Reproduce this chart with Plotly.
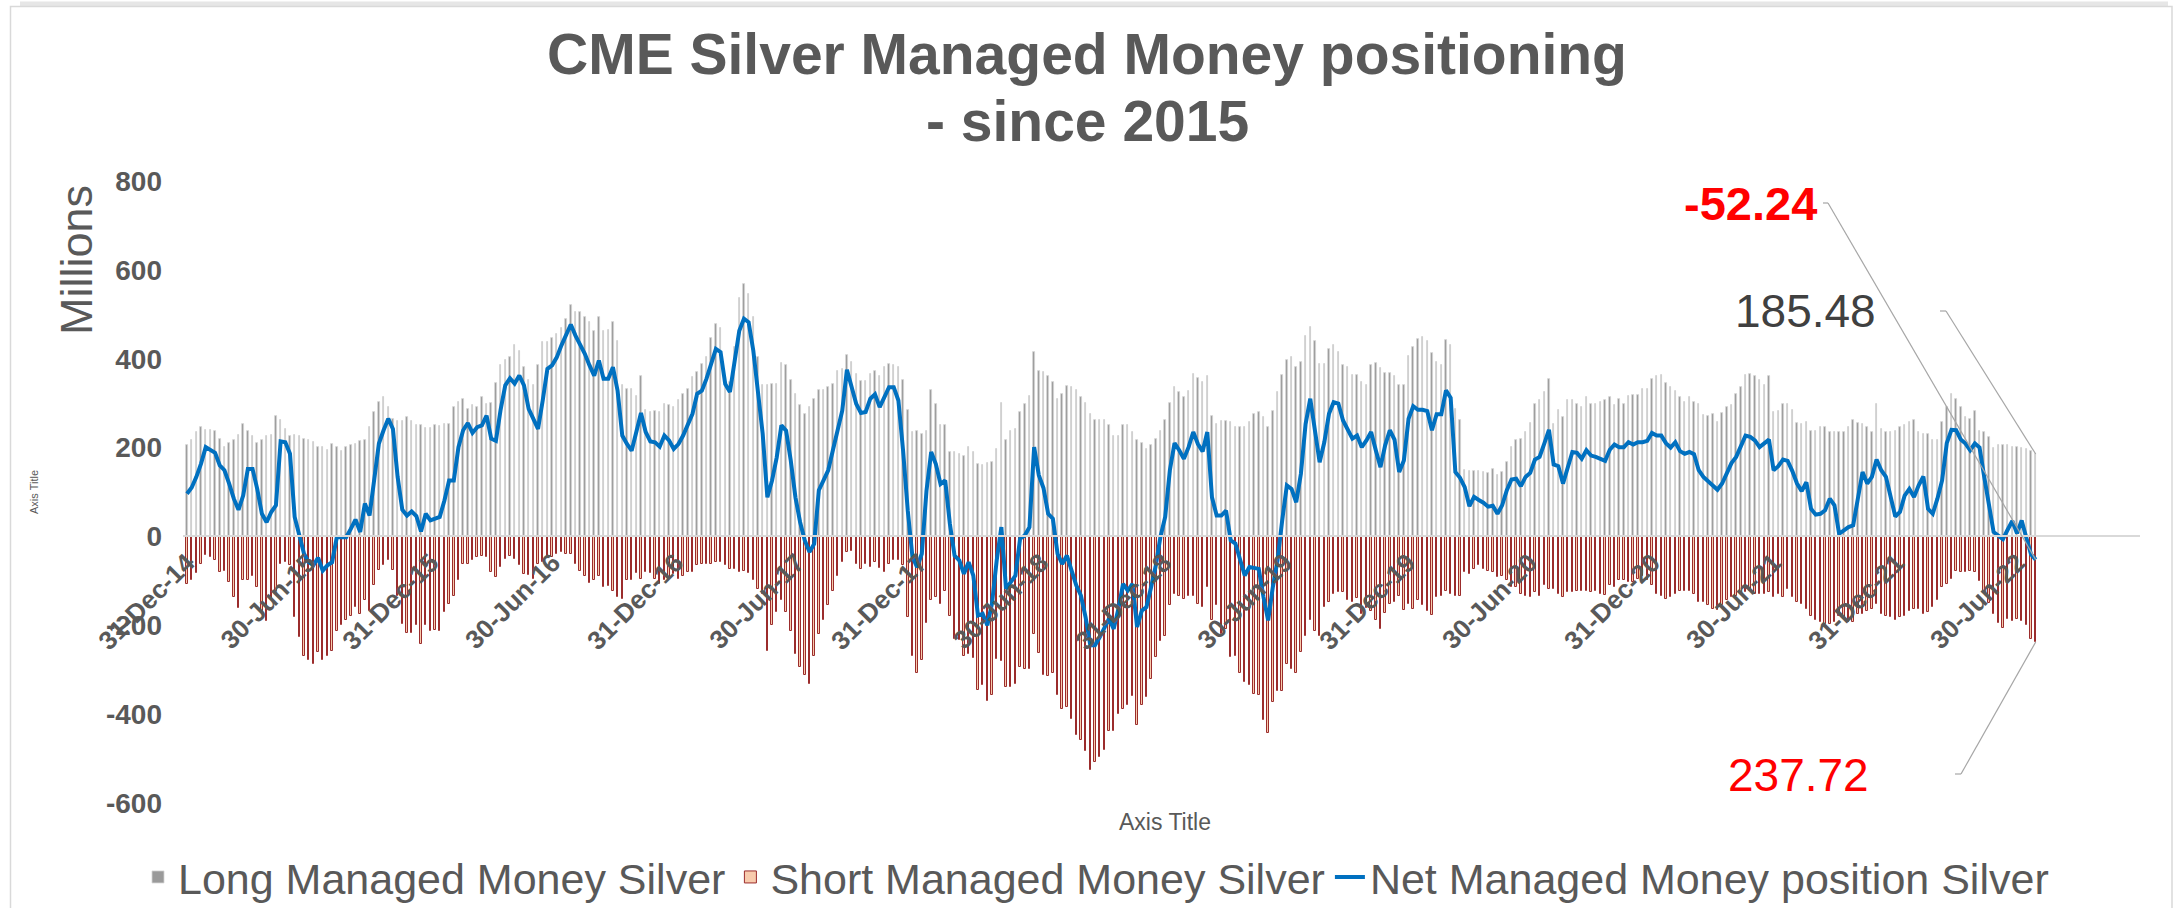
import pandas as pd
import plotly.graph_objects as go

# ---------------- data (weekly, millions) ----------------
start_date = "2014-12-31"
n_weeks = 396
dates = pd.date_range(start=start_date, periods=n_weeks, freq="7D")

long_mm = [
    206, 218, 236, 246, 240, 240, 238, 220, 201, 210,
    216, 229, 252, 238, 227, 210, 217, 227, 229, 272,
    262, 242, 225, 229, 227, 220, 217, 212, 202, 201,
    195, 208, 201, 193, 201, 205, 207, 214, 216, 246,
    280, 302, 313, 292, 265, 259, 259, 268, 259, 251,
    250, 244, 244, 250, 248, 252, 252, 292, 302, 310,
    287, 295, 292, 313, 298, 300, 345, 385, 396, 403,
    430, 418, 381, 351, 340, 385, 437, 437, 447, 456,
    470, 490, 520, 505, 505, 493, 482, 463, 493, 463,
    465, 482, 441, 340, 332, 332, 317, 360, 285, 280,
    283, 280, 297, 295, 291, 306, 321, 332, 358, 370,
    388, 403, 447, 478, 469, 358, 347, 426, 537, 568,
    546, 495, 403, 340, 340, 343, 343, 390, 385, 351,
    321, 295, 276, 291, 310, 330, 330, 336, 343, 373,
    377, 409, 392, 366, 349, 349, 366, 373, 362, 381,
    388, 385, 382, 351, 285, 235, 238, 231, 238, 330,
    298, 250, 250, 190, 190, 186, 180, 202, 191, 163,
    160, 165, 167, 197, 300, 216, 238, 242, 280, 297,
    316, 416, 373, 370, 360, 347, 310, 320, 338, 336,
    330, 313, 300, 276, 262, 261, 261, 250, 225, 227,
    250, 251, 235, 216, 210, 197, 205, 220, 238, 262,
    300, 336, 325, 313, 328, 366, 357, 347, 362, 272,
    253, 259, 259, 257, 246, 247, 247, 257, 276, 281,
    268, 247, 283, 325, 364, 397, 403, 381, 392, 452,
    471, 441, 388, 388, 421, 431, 415, 385, 381, 364,
    364, 347, 340, 385, 390, 379, 367, 367, 362, 340,
    340, 405, 426, 445, 450, 441, 412, 392, 386, 442,
    432, 287, 262, 150, 148, 148, 148, 145, 142, 152,
    139, 145, 167, 201, 217, 220, 235, 255, 298, 307,
    325, 355, 253, 285, 268, 307, 306, 298, 291, 313,
    297, 297, 302, 307, 313, 295, 310, 297, 317, 319,
    319, 332, 332, 355, 360, 364, 345, 336, 328, 313,
    302, 313, 302, 298, 274, 272, 276, 257, 277, 291,
    295, 321, 336, 364, 366, 362, 351, 340, 360, 280,
    283, 298, 298, 285, 255, 253, 257, 238, 238, 246,
    246, 235, 235, 235, 235, 247, 261, 255, 253, 247,
    235, 297, 242, 235, 235, 238, 247, 250, 257, 262,
    235, 231, 231, 216, 216, 257, 292, 321, 310, 291,
    268, 265, 283, 238, 235, 223, 200, 205, 205, 205,
    202, 202, 198, 196, 193, 185.48,
]

short_mm = [
    107, 99, 83, 62, 41, 47, 54, 80, 78, 103,
    137, 161, 99, 98, 90, 114, 167, 190, 144, 122,
    62, 58, 65, 182, 227, 270, 278, 287, 260, 279,
    270, 257, 212, 200, 189, 180, 159, 174, 144, 167,
    110, 75, 65, 54, 75, 133, 197, 218, 218, 200,
    242, 200, 212, 210, 212, 170, 152, 133, 99, 62,
    62, 54, 47, 43, 47, 80, 92, 69, 50, 45,
    50, 65, 84, 87, 95, 62, 58, 47, 47, 39,
    35, 40, 39, 62, 77, 88, 105, 99, 90, 114,
    111, 122, 137, 140, 99, 98, 83, 95, 80, 83,
    95, 107, 99, 95, 84, 95, 90, 80, 80, 65,
    62, 62, 63, 58, 58, 65, 73, 73, 79, 77,
    83, 99, 118, 129, 257, 200, 170, 144, 170, 212,
    264, 294, 313, 332, 268, 219, 189, 155, 122, 88,
    58, 35, 32, 62, 73, 62, 69, 58, 70, 80,
    62, 54, 54, 65, 182, 268, 308, 279, 195, 144,
    137, 152, 122, 178, 230, 234, 268, 264, 273, 345,
    335, 371, 356, 275, 280, 339, 339, 332, 294, 298,
    298, 219, 263, 313, 315, 308, 358, 389, 384, 410,
    446, 458, 483, 525, 508, 497, 480, 437, 438, 399,
    388, 379, 360, 425, 379, 362, 320, 272, 236, 225,
    155, 129, 135, 140, 133, 133, 152, 159, 114, 188,
    155, 219, 208, 272, 268, 308, 328, 335, 354, 358,
    413, 443, 373, 347, 347, 287, 298, 308, 259, 223,
    188, 213, 225, 159, 148, 129, 125, 125, 144, 148,
    138, 174, 161, 167, 189, 208, 173, 152, 148, 135,
    165, 152, 163, 144, 155, 167, 176, 137, 133, 122,
    129, 133, 133, 80, 84, 73, 65, 73, 77, 80,
    92, 88, 99, 114, 114, 129, 133, 137, 125, 133,
    110, 118, 118, 129, 137, 125, 125, 122, 123, 122,
    125, 122, 129, 131, 110, 114, 99, 99, 103, 103,
    95, 88, 99, 110, 129, 133, 140, 137, 129, 122,
    122, 122, 129, 148, 148, 155, 163, 165, 155, 144,
    137, 133, 129, 125, 122, 129, 129, 129, 125, 137,
    129, 137, 118, 137, 148, 152, 163, 178, 189, 193,
    197, 197, 193, 178, 182, 193, 193, 174, 174, 167,
    163, 152, 174, 178, 182, 189, 182, 178, 167, 163,
    163, 174, 170, 159, 144, 114, 107, 95, 77, 80,
    80, 78, 80, 100, 125, 150, 175, 194, 205, 185,
    190, 185, 190, 200, 231, 237.72,
]

net_mm = [
    96, 110, 134, 164, 201, 194, 188, 160, 149, 119,
    85, 60, 92, 152, 152, 107, 51, 32, 55, 70,
    214, 212, 186, 44, -2, -39, -58, -65, -48, -77,
    -65, -58, -2, -2, -2, 17, 38, 10, 74, 47,
    134, 209, 239, 265, 242, 134, 60, 47, 56, 46,
    11, 51, 36, 40, 44, 81, 126, 126, 201, 239,
    255, 233, 246, 250, 272, 220, 215, 285, 340, 356,
    344, 362, 340, 287, 265, 242, 306, 377, 385, 403,
    430, 456, 477, 452, 433, 411, 385, 362, 396, 355,
    355, 381, 328, 227, 208, 193, 235, 278, 235, 214,
    212, 202, 227, 216, 197, 208, 227, 253, 276, 321,
    328, 355, 388, 422, 415, 343, 325, 396, 463, 490,
    482, 418, 328, 231, 88, 126, 178, 250, 238, 171,
    88, 32, -9, -35, -17, 104, 126, 149, 194, 235,
    283, 375, 340, 298, 278, 280, 310, 320, 291, 313,
    336, 336, 306, 193, 58, -46, -69, -39, 103, 190,
    163, 118, 126, 28, -43, -54, -84, -58, -88, -178,
    -174, -200, -151, -54, 21, -118, -103, -88, -5, 2,
    21, 201, 138, 109, 51, 40, -39, -62, -43, -77,
    -110, -133, -182, -245, -245, -227, -204, -185, -208, -163,
    -107, -122, -107, -204, -167, -159, -114, -65, 0, 44,
    149, 210, 194, 175, 201, 235, 208, 191, 235, 88,
    47, 47, 58, -9, -16, -54, -88, -69, -70, -73,
    -136, -189, -114, -54, 36, 115, 107, 77, 141, 253,
    310, 231, 167, 212, 276, 302, 299, 261, 242, 220,
    227, 201, 216, 235, 194, 156, 205, 239, 218, 145,
    171, 265, 293, 285, 285, 282, 239, 275, 275, 329,
    312, 145, 132, 111, 68, 89, 82, 76, 67, 69,
    51, 70, 104, 128, 130, 113, 134, 143, 173, 179,
    209, 240, 162, 158, 119, 156, 190, 188, 175, 194,
    182, 179, 175, 170, 195, 207, 201, 201, 212, 207,
    212, 212, 215, 233, 227, 227, 210, 200, 212, 192,
    186, 190, 185, 149, 134, 125, 115, 105, 119, 141,
    165, 179, 201, 227, 224, 216, 201, 209, 218, 149,
    158, 173, 170, 147, 119, 102, 122, 62, 49, 51,
    59, 85, 70, 6, 14, 21, 25, 85, 145, 119,
    134, 173, 149, 134, 92, 45, 55, 92, 107, 89,
    115, 135, 62, 51, 85, 126, 210, 240, 239, 218,
    209, 194, 209, 200, 134, 74, 10, 2, -6, 15,
    35, 7, 36, -3, -40, -52.24,
]

tick_dates = ["2014-12-31", "2015-06-30", "2015-12-31", "2016-06-30",
              "2016-12-31", "2017-06-30", "2017-12-31", "2018-06-30",
              "2018-12-31", "2019-06-30", "2019-12-31", "2020-06-30",
              "2020-12-31", "2021-06-30", "2021-12-31", "2022-06-30"]
y_ticks = [-600, -400, -200, 0, 200, 400, 600, 800]

title_lines = ["CME Silver Managed Money positioning", "- since 2015"]

assert len(long_mm) == n_weeks and len(short_mm) == n_weeks and len(net_mm) == n_weeks

# ---------------- layout geometry (pixels) ----------------
W, H = 2175, 908
L, R, T, B = 183, 2140, 181, 803
x_range = ["2014-12-25", "2022-12-30"]
y_range = [-600, 800]
FONT = "Liberation Sans, Arial, sans-serif"
GREY = "#595959"


def xp(px):
    return (px - L) / (R - L)


def yp(py):
    return (B - py) / (B - T)


def xd(px):
    t0, t1 = pd.Timestamp(x_range[0]), pd.Timestamp(x_range[1])
    return t0 + (t1 - t0) * ((px - L) / (R - L))


def yd(py):
    return y_range[1] - (py - T) / (B - T) * (y_range[1] - y_range[0])


bar_w = 2.2 * 24 * 3600 * 1000  # ms

fig = go.Figure()
fig.add_trace(go.Bar(
    x=dates, y=long_mm, name="Long Managed Money Silver", width=bar_w,
    marker=dict(color="#9A9A9A", line=dict(color="#D4D4D4", width=0.8)),
))
fig.add_trace(go.Bar(
    x=dates, y=[-v for v in short_mm], name="Short Managed Money Silver", width=bar_w,
    marker=dict(color="#F8CBAD", line=dict(color="#9B2C2C", width=1.0)),
))
fig.add_trace(go.Scatter(
    x=dates, y=net_mm, mode="lines", name="Net Managed Money position Silver",
    line=dict(color="#0070C0", width=4),
))

last = dates[-1]
labels = [
    # text, color, bold, text center px, leader start px, leader elbow px, value
    (f"{net_mm[-1]:.2f}", "#FF0000", True, (1750, 204), (1823, 203), (1828, 203), net_mm[-1]),
    (f"{long_mm[-1]:.2f}", "#404040", False, (1805, 311), (1940, 311), (1946, 311), long_mm[-1]),
    (f"{short_mm[-1]:.2f}", "#FF0000", False, (1798, 775), (1955, 774), (1961, 774), -short_mm[-1]),
]

annotations = []
shapes = []
for text, color, bold, (cx, cy), (sx, sy), (ex, ey), val in labels:
    annotations.append(dict(
        x=xp(cx), y=yp(cy), xref="paper", yref="paper", showarrow=False,
        text=text, xanchor="center", yanchor="middle",
        font=dict(family=FONT, size=47 if bold else 46, color=color,
                  weight="bold" if bold else "normal"),
    ))
    shapes.append(dict(type="line", xref="x", yref="y", x0=xd(sx), y0=yd(sy),
                       x1=xd(ex), y1=yd(ey), line=dict(color="#A6A6A6", width=1.2)))
    shapes.append(dict(type="line", xref="x", yref="y", x0=xd(ex), y0=yd(ey),
                       x1=last, y1=val, line=dict(color="#A6A6A6", width=1.2)))

# title (two centred lines)
for line_text, cy in zip(title_lines, (54, 121)):
    annotations.append(dict(
        x=xp(1087), y=yp(cy), xref="paper", yref="paper", showarrow=False,
        text=f"<b>{line_text}</b>", xanchor="center", yanchor="middle",
        font=dict(family=FONT, size=57, color=GREY),
    ))

annotations += [
    dict(x=xp(76), y=yp(260), xref="paper", yref="paper", showarrow=False,
         text="Millions", textangle=-90, xanchor="center", yanchor="middle",
         font=dict(family=FONT, size=45, color=GREY)),
    dict(x=xp(34), y=yp(492), xref="paper", yref="paper", showarrow=False,
         text="Axis Title", textangle=-90, xanchor="center", yanchor="middle",
         font=dict(family=FONT, size=11, color=GREY)),
    dict(x=xp(1165), y=yp(822), xref="paper", yref="paper", showarrow=False,
         text="Axis Title", xanchor="center", yanchor="middle",
         font=dict(family=FONT, size=23, color=GREY)),
]

# chart-area frame
shapes += [
    dict(type="rect", xref="paper", yref="paper", x0=xp(20), x1=xp(2168),
         y0=yp(6), y1=yp(1.5), fillcolor="#E6E6E6", line=dict(width=0), layer="above"),
    dict(type="rect", xref="paper", yref="paper", x0=xp(10.5), x1=xp(2172),
         y0=yp(912), y1=yp(6.5), line=dict(color="#D9D9D9", width=1.5), layer="above"),
]

fig.update_layout(
    width=W, height=H,
    margin=dict(l=L, r=W - R, t=T, b=H - B, pad=0, autoexpand=False),
    paper_bgcolor="white", plot_bgcolor="white",
    barmode="overlay", bargap=0,
    font=dict(family=FONT, color=GREY),
    xaxis=dict(
        type="date", range=x_range, anchor="free",
        position=(0 - y_range[0]) / (y_range[1] - y_range[0]),
        showline=True, linecolor="#D9D9D9", linewidth=1.5,
        showgrid=False, zeroline=False, ticks="",
        tickvals=tick_dates, tickformat="%d-%b-%y", tickangle=-45,
        tickfont=dict(family=FONT, size=26, color=GREY, weight="bold"),
    ),
    yaxis=dict(
        range=y_range, tickvals=y_ticks, ticktext=[str(v) for v in y_ticks],
        showgrid=False, zeroline=False, showline=False, ticks="",
        ticklabelstandoff=20,
        tickfont=dict(family=FONT, size=28, color=GREY, weight="bold"),
    ),
    legend=dict(
        orientation="h", xref="paper", yref="paper",
        x=xp(1096), xanchor="center", y=yp(877), yanchor="middle",
        font=dict(family=FONT, size=43, color=GREY),
        itemwidth=30, tracegroupgap=0,
    ),
    annotations=annotations,
    shapes=shapes,
    showlegend=True,
)

fig.write_html("out.html", config={"displayModeBar": False},
               post_script="document.body.style.margin='0px';")
